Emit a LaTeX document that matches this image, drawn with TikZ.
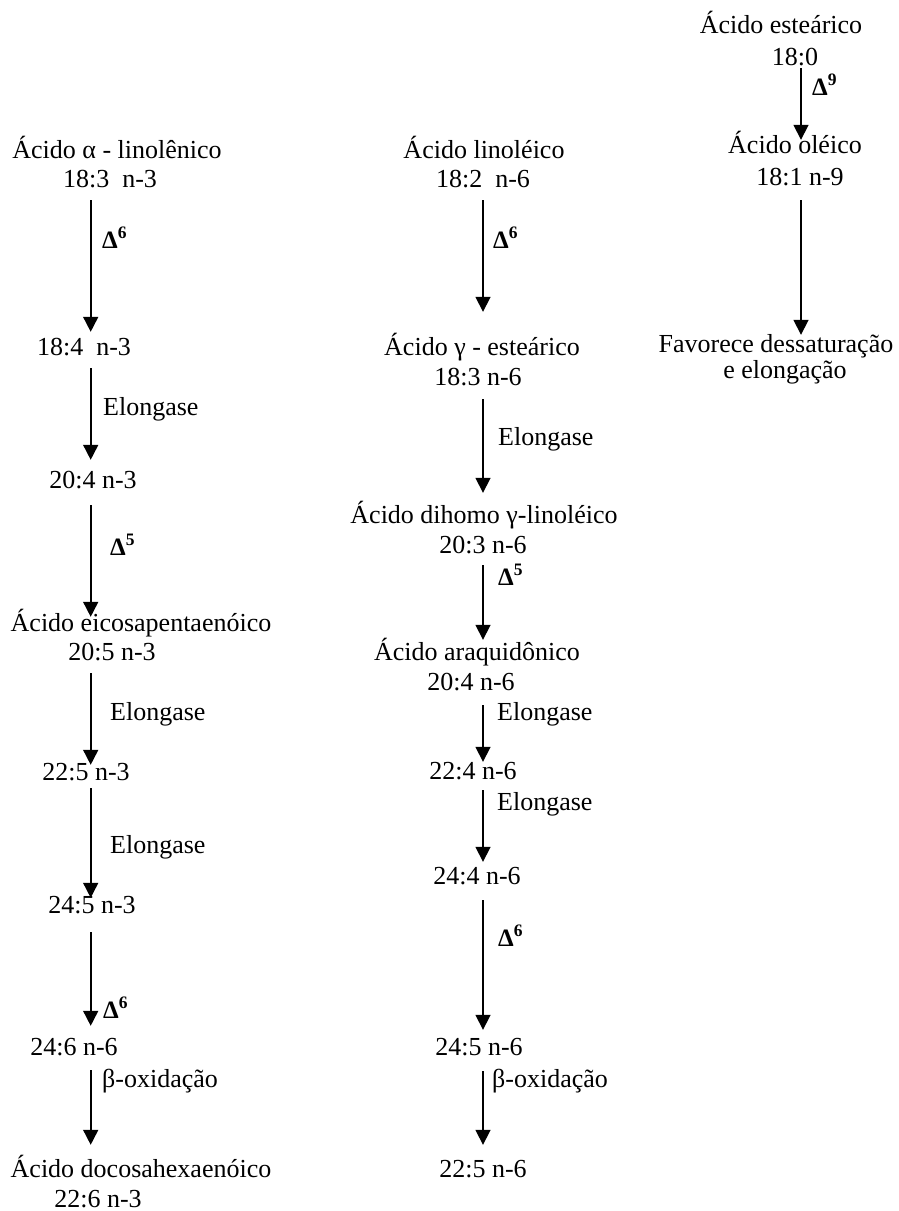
\documentclass[tikz,border=0pt]{standalone}
\usepackage{fontspec}
\setmainfont{Liberation Serif}
\usetikzlibrary{arrows.meta}
\tikzset{
	txt/.style={inner sep=0pt,anchor=base,text height=18pt,text depth=6pt,font=\fontsize{26}{29.5}\selectfont},
	lbl/.style={txt,anchor=base west},
	seta/.style={line width=1.7pt,-{Triangle[width=15pt,length=15pt]}}
}
\newcommand{\dlt}[1]{{\fontsize{25}{28}\selectfont\bfseries Δ\textsuperscript{#1}}}
\begin{document}
\begin{tikzpicture}[x=1pt,y=-1pt,line join=round]
	\useasboundingbox (0,0) rectangle (899,1211);
	\path (90.7,0)coordinate(c1) (483,0)coordinate(c2) (801,0)coordinate(c3);
	% serie n-3
	\foreach \n/\px/\py/\t in {l1/117/158/{Ácido α - linolênico},l2/110/187/{18:3\ \ n-3},l3/84/355/{18:4\ \ n-3},
		l4/93/488/{20:4 n-3},l5/141/631/{Ácido eicosapentaenóico},l6/112/660/{20:5 n-3},l7/86/780/{22:5 n-3},
		l8/92/913/{24:5 n-3},l9/74/1055/{24:6 n-6},l10/141/1177/{Ácido docosahexaenóico},l11/98/1207/{22:6 n-3}}
	\node[txt] (\n) at (\px,\py) {\t};
	% serie n-6
	\foreach \n/\px/\py/\t in {m1/484/158/{Ácido linoléico},m2/483/187/{18:2\ \ n-6},m3/482/355/{Ácido γ - esteárico},
		m4/478/385/{18:3 n-6},m5/484/523/{Ácido dihomo γ-linoléico},m6/483/553/{20:3 n-6},m7/477/660/{Ácido araquidônico},
		m8/471/690/{20:4 n-6},m9/473/779/{22:4 n-6},m10/477/884/{24:4 n-6},m11/479/1055/{24:5 n-6},m12/483/1177/{22:5 n-6}}
	\node[txt] (\n) at (\px,\py) {\t};
	% serie n-9
	\foreach \n/\px/\py/\t in {r1/781/33/{Ácido esteárico},r2/795/65/{18:0},r3/795/153/{Ácido oléico},
		r4/800/185/{18:1 n-9},r5/776/352/{Favorece dessaturação},r6/785/378/{e elongação}}
	\node[txt] (\n) at (\px,\py) {\t};
	% setas
	\foreach \a/\b/\s/\e in {l2/l3/7/5,l3/l4/7/10,l4/l5/11/-4,l6/l7/7/-3,l7/l8/2/-3,l8/l9/13/11,l9/l10/9/14}
	\draw[seta,shorten <=\s pt,shorten >=\e pt] (\a.south -| c1) -- (\b.north -| c1);
	\foreach \a/\b/\s/\e in {m2/m3/7/25,m4/m5/8/12,m6/m7/6/2,m8/m9/9/-1,m9/m10/5/4,m10/m11/10/7,m11/m12/10/14}
	\draw[seta,shorten <=\s pt,shorten >=\e pt] (\a.south -| c2) -- (\b.north -| c2);
	\foreach \a/\b/\s/\e in {r2/r3/-3/-5,r4/r5/9/-1}
	\draw[seta,shorten <=\s pt,shorten >=\e pt] (\a.south -| c3) -- (\b.north -| c3);
	% enzimas
	\foreach \px/\py/\t [count=\i] in {102/248/\dlt{6},103/415/Elongase,110/555/\dlt{5},110/720/Elongase,110/853/Elongase,
		103/1018/\dlt{6},102/1087/β-oxidação,493/248/\dlt{6},498/445/Elongase,498/585/\dlt{5},497/720/Elongase,
		497/810/Elongase,498/946/\dlt{6},492/1087/β-oxidação,812/95/\dlt{9}}
	\node[lbl] (e\i) at (\px,\py) {\t};
\end{tikzpicture}
\end{document}
